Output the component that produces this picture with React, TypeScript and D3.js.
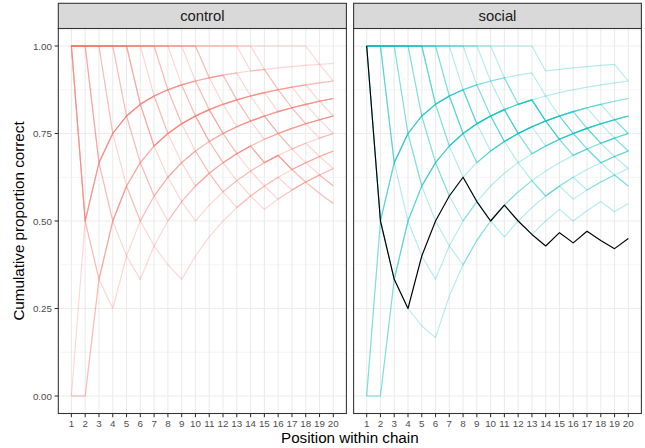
import React from "react";
import * as d3 from "d3";

// ---- data ----
const positions = [1, 2, 3, 4, 5, 6, 7, 8, 9, 10, 11, 12, 13, 14, 15, 16, 17, 18, 19, 20];
const yTicks = [0, 0.25, 0.5, 0.75, 1];
const yTickLabels = ["0.00", "0.25", "0.50", "0.75", "1.00"];
const yMinor = [0.125, 0.375, 0.625, 0.875];
const conditions = ["control", "social"];
const conditionColors = ["#F8766D", "#00BFC4"];

// each chain: outcome (1 = correct, 0 = incorrect) at positions 1..20
const controlChains = [
  "01111111111011111111",
  "00111111011111011111",
  "10111111111111111111",
  "10111111101111111111",
  "10011111111110111111",
  "10001111111011110111",
  "10111011110111101101",
  "11000011111101111011",
  "11011110111111101111",
  "11100000011111011111",
  "11101111011101111011",
  "11110000111110110111",
  "11110101111011101110",
  "11111000001101101100",
  "11111011110110111011",
  "11111001110011010110",
  "11111100111011101111",
  "11111110000010110100",
  "11111110111101110111",
  "11111111000101010010",
  "11111111100001010100",
  "11111111110110110111",
  "11111111110101011101",
  "11111111111110101010",
  "11111111111111001101",
  "11111111111111111100",
  "11001101101011011011",
  "00111011110111110101",
];

const socialChains = [
  "00111111101111101111",
  "00111101111011111011",
  "01111110111110111111",
  "01110111110111110111",
  "10000011110101101101",
  "10011111011111011111",
  "10111101111011110110",
  "11000011101110110111",
  "11011111011110111101",
  "11011011110111011011",
  "11100000111011101110",
  "11101111101111011111",
  "11110000111101111011",
  "11110111011011101110",
  "11111000001110111111",
  "11111011110110111011",
  "11111010111011011101",
  "11111100011101101101",
  "11111101111110111111",
  "11111110011010110110",
  "11111111000101101010",
  "11111111101010101010",
  "11111111110010010000",
  "11111111111110111110",
];

const highlightedChain = "10001111001000101001";

const chainsByCondition = [controlChains, socialChains];

function cumulative(s: string): number[] {
  let c = 0;
  return s.split("").map((ch, i) => {
    c += ch === "1" ? 1 : 0;
    return c / (i + 1);
  });
}

// ---- layout ----
const W = 645;
const H = 448;
const panelTop = 28.5;
const panelBottom = 413.5;
const stripTop = 3.3;
const panelX = [
  [58.3, 346.4],
  [353.6, 641.4],
];
const ALPHA = 0.3;
const LW = 1.07;
const FONT = "'Liberation Sans', Arial, Helvetica, sans-serif";

export default function App() {
  const y = d3.scaleLinear().domain([-0.05, 1.05]).range([panelBottom, panelTop]);

  return (
    <svg
      width={W}
      height={H}
      viewBox={`0 0 ${W} ${H}`}
      style={{ position: "absolute", left: 0, top: 0, background: "#fff" }}
      fontFamily={FONT}
    >
      <rect x={0} y={0} width={W} height={H} fill="#fff" />
      {conditions.map((cond, pi) => {
        const [x0, x1] = panelX[pi];
        const x = d3.scaleLinear().domain([0.05, 20.95]).range([x0, x1]);
        const line = d3
          .line<number>()
          .x((_, i) => x(positions[i]))
          .y((v) => y(v));
        const chains = chainsByCondition[pi];
        return (
          <g key={cond}>
            <rect x={x0} y={panelTop} width={x1 - x0} height={panelBottom - panelTop} fill="#fff" />
            {yMinor.map((t) => (
              <line key={"mn" + t} x1={x0} x2={x1} y1={y(t)} y2={y(t)} stroke="#EBEBEB" strokeWidth={0.53} />
            ))}
            {yTicks.map((t) => (
              <line key={"mj" + t} x1={x0} x2={x1} y1={y(t)} y2={y(t)} stroke="#EBEBEB" strokeWidth={LW} />
            ))}
            {positions.map((p) => (
              <line key={"vx" + p} x1={x(p)} x2={x(p)} y1={panelTop} y2={panelBottom} stroke="#EBEBEB" strokeWidth={LW} />
            ))}
            {chains.map((c, ci) => (
              <path
                key={"c" + ci}
                d={line(cumulative(c)) || ""}
                fill="none"
                stroke={conditionColors[pi]}
                strokeOpacity={ALPHA}
                strokeWidth={1.15}
                strokeLinejoin="round"
              />
            ))}
            {cond === "social" && (
              <path
                d={line(cumulative(highlightedChain)) || ""}
                fill="none"
                stroke="#000"
                strokeWidth={1.15}
                strokeLinejoin="round"
              />
            )}
            <rect
              x={x0}
              y={panelTop}
              width={x1 - x0}
              height={panelBottom - panelTop}
              fill="none"
              stroke="#333333"
              strokeWidth={LW}
            />
            <rect
              x={x0}
              y={stripTop}
              width={x1 - x0}
              height={panelTop - stripTop}
              fill="#D9D9D9"
              stroke="#333333"
              strokeWidth={LW}
            />
            <text
              x={(x0 + x1) / 2}
              y={(stripTop + panelTop) / 2}
              textAnchor="middle"
              dominantBaseline="central"
              fontSize={14.8}
              fill="#1A1A1A"
            >
              {cond}
            </text>
            {positions.map((p) => (
              <g key={"xt" + p}>
                <line x1={x(p)} x2={x(p)} y1={panelBottom} y2={panelBottom + 3.7} stroke="#333333" strokeWidth={LW} />
                <text x={x(p)} y={427.3} textAnchor="middle" fontSize={9.8} fill="#4D4D4D">
                  {String(p)}
                </text>
              </g>
            ))}
          </g>
        );
      })}
      {yTicks.map((t, i) => (
        <g key={"yt" + t}>
          <line x1={panelX[0][0] - 3.7} x2={panelX[0][0]} y1={y(t)} y2={y(t)} stroke="#333333" strokeWidth={LW} />
          <text
            x={panelX[0][0] - 6.3}
            y={y(t)}
            textAnchor="end"
            dominantBaseline="central"
            fontSize={9.8}
            fill="#4D4D4D"
          >
            {yTickLabels[i]}
          </text>
        </g>
      ))}
      <text
        x={(panelX[0][0] + panelX[1][1]) / 2}
        y={443}
        textAnchor="middle"
        fontSize={15.2}
        fill="#000"
      >
        Position within chain
      </text>
      <text
        transform={`translate(23.5, ${(panelTop + panelBottom) / 2}) rotate(-90)`}
        textAnchor="middle"
        fontSize={15.2}
        fill="#000"
      >
        Cumulative proportion correct
      </text>
    </svg>
  );
}
